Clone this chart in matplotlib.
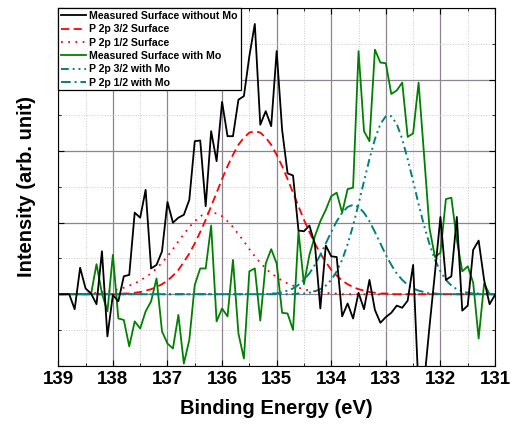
import numpy as np
import matplotlib
matplotlib.use('Agg')
from matplotlib import pyplot as plt
from matplotlib.ticker import MultipleLocator

plt.rcParams['font.family'] = ['Liberation Sans', 'DejaVu Sans']
plt.rcParams['font.weight'] = 'bold'

# binding energy grid, 139.0 -> 131.0 eV in 0.1 eV steps
energy = np.round(np.linspace(139.0, 131.0, 81), 1)

# measured spectra (arb. unit)
surface_no_mo = [
    0.00, 0.00, 0.00, -0.21, 0.37, 0.08, 0.01, -0.14, 0.60, -0.59,
    -0.01, -0.10, 0.25, 0.27, 1.14, 1.07, 1.46, 0.36, 0.41, 0.60,
    1.29, 1.00, 1.07, 1.11, 1.32, 2.14, 2.15, 1.23, 2.28, 1.86,
    2.69, 2.21, 2.21, 2.72, 2.77, 3.33, 3.78, 2.37, 2.56, 2.35,
    3.40, 2.30, 1.69, 1.66, 0.89, 0.88, 0.96, 0.70, -0.20, 0.68,
    0.53, 0.52, -0.31, -0.13, -0.34, 0.02, -0.21, 0.20, -0.22, -0.40,
    -0.32, -0.26, -0.16, -0.19, -0.09, 0.41, -1.35, -1.25, -0.45, 0.30,
    1.08, 0.20, 0.25, 1.08, -0.23, -0.16, 0.62, 0.75, 0.20, -0.14,
    -0.01]
surface_mo = [
    0.00, 0.00, 0.00, 0.00, 0.00, 0.00, 0.00, 0.42, 0.01, -0.24,
    0.55, -0.34, -0.36, -0.73, -0.38, -0.48, -0.24, -0.10, 0.22, -0.52,
    -0.69, -0.76, -0.29, -0.97, -0.64, 0.13, 0.36, 0.36, 0.96, -0.38,
    -0.20, -0.31, 0.48, -0.55, -0.90, 0.32, 0.36, -0.37, 0.43, 0.63,
    0.43, -0.26, -0.27, -0.50, 0.88, 0.14, 0.55, 0.81, 1.02, 1.18,
    1.37, 1.42, 1.14, 1.47, 1.49, 3.40, 2.28, 2.14, 3.42, 3.24,
    3.23, 2.80, 2.85, 2.96, 2.20, 2.25, 2.96, 1.95, 0.92, 0.52,
    0.58, 1.33, 1.35, 0.76, 0.32, 0.39, 0.16, -0.62, 0.15, 0.00,
    0.00]

# fitted components
p32_surface = [
    0.00, 0.00, 0.00, 0.00, 0.00, 0.00, 0.00, 0.00, 0.00, 0.00,
    0.00, 0.00, 0.01, 0.01, 0.02, 0.03, 0.05, 0.07, 0.10, 0.14,
    0.19, 0.26, 0.34, 0.45, 0.57, 0.71, 0.87, 1.04, 1.23, 1.42,
    1.61, 1.79, 1.95, 2.09, 2.19, 2.26, 2.28, 2.26, 2.19, 2.09,
    1.95, 1.79, 1.61, 1.42, 1.23, 1.04, 0.87, 0.71, 0.57, 0.45,
    0.34, 0.26, 0.19, 0.14, 0.10, 0.07, 0.05, 0.03, 0.02, 0.01,
    0.01, 0.00, 0.00, 0.00, 0.00, 0.00, 0.00, 0.00, 0.00, 0.00,
    0.00, 0.00, 0.00, 0.00, 0.00, 0.00, 0.00, 0.00, 0.00, 0.00,
    0.00]
p12_surface = [
    0.00, 0.00, 0.00, 0.00, 0.00, 0.01, 0.01, 0.02, 0.03, 0.04,
    0.05, 0.07, 0.09, 0.12, 0.15, 0.19, 0.24, 0.29, 0.36, 0.44,
    0.53, 0.63, 0.74, 0.84, 0.94, 1.02, 1.09, 1.13, 1.14, 1.13,
    1.09, 1.02, 0.94, 0.84, 0.74, 0.63, 0.53, 0.44, 0.36, 0.29,
    0.24, 0.19, 0.15, 0.12, 0.09, 0.07, 0.05, 0.04, 0.03, 0.02,
    0.01, 0.01, 0.00, 0.00, 0.00, 0.00, 0.00, 0.00, 0.00, 0.00,
    0.00, 0.00, 0.00, 0.00, 0.00, 0.00, 0.00, 0.00, 0.00, 0.00,
    0.00, 0.00, 0.00, 0.00, 0.00, 0.00, 0.00, 0.00, 0.00, 0.00,
    0.00]
p32_mo = [
    0.00, 0.00, 0.00, 0.00, 0.00, 0.00, 0.00, 0.00, 0.00, 0.00,
    0.00, 0.00, 0.00, 0.00, 0.00, 0.00, 0.00, 0.00, 0.00, 0.00,
    0.00, 0.00, 0.00, 0.00, 0.00, 0.00, 0.00, 0.00, 0.00, 0.00,
    0.00, 0.00, 0.00, 0.00, 0.00, 0.00, 0.00, 0.00, 0.00, 0.00,
    0.00, 0.00, 0.00, 0.00, 0.01, 0.01, 0.02, 0.04, 0.07, 0.12,
    0.20, 0.32, 0.48, 0.70, 0.96, 1.26, 1.58, 1.89, 2.17, 2.38,
    2.49, 2.49, 2.38, 2.17, 1.89, 1.58, 1.26, 0.96, 0.70, 0.48,
    0.32, 0.20, 0.12, 0.07, 0.04, 0.02, 0.01, 0.01, 0.00, 0.00,
    0.00]
p12_mo = [
    0.00, 0.00, 0.00, 0.00, 0.00, 0.00, 0.00, 0.00, 0.00, 0.00,
    0.00, 0.00, 0.00, 0.00, 0.00, 0.00, 0.00, 0.00, 0.00, 0.00,
    0.00, 0.00, 0.00, 0.00, 0.00, 0.00, 0.00, 0.00, 0.00, 0.00,
    0.00, 0.00, 0.00, 0.00, 0.00, 0.00, 0.00, 0.00, 0.00, 0.01,
    0.01, 0.03, 0.05, 0.08, 0.13, 0.20, 0.29, 0.41, 0.55, 0.71,
    0.87, 1.02, 1.14, 1.22, 1.25, 1.22, 1.14, 1.02, 0.87, 0.71,
    0.55, 0.41, 0.29, 0.20, 0.13, 0.08, 0.05, 0.03, 0.01, 0.01,
    0.00, 0.00, 0.00, 0.00, 0.00, 0.00, 0.00, 0.00, 0.00, 0.00,
    0.00]

teal = '#008080'

fig = plt.figure(figsize=(5.19, 4.32), dpi=100)
ax = fig.add_axes([0.1123, 0.1535, 0.8415, 0.8275])

ax.plot(energy, surface_no_mo, color='black', lw=1.3, label='Measured Surface without Mo', zorder=4)
ax.plot(energy, p32_surface, color='red', lw=1.3, ls=(0, (4.5, 2.5)), label='P 2p 3/2 Surface', zorder=3)
ax.plot(energy, p12_surface, color='red', lw=1.3, ls=(0, (1, 3)), label='P 2p 1/2 Surface', zorder=3)
ax.plot(energy, surface_mo, color='#008000', lw=1.3, label='Measured Surface with Mo', zorder=3)
ax.plot(energy, p32_mo, color=teal, lw=1.4, ls=(0, (4, 2, 1, 2, 1, 2)), label='P 2p 3/2 with Mo', zorder=3)
ax.plot(energy, p12_mo, color=teal, lw=1.4, ls=(0, (5, 2, 1, 2)), label='P 2p 1/2 with Mo', zorder=3)

ax.set_xlim(139, 131)
ax.set_ylim(-1, 4)
ax.xaxis.set_major_locator(MultipleLocator(1))
ax.xaxis.set_minor_locator(MultipleLocator(0.5))
ax.yaxis.set_major_locator(MultipleLocator(1))
ax.yaxis.set_minor_locator(MultipleLocator(0.5))
ax.tick_params(which='both', direction='in', top=True, right=True, labelleft=False)
ax.tick_params(which='major', length=4, labelsize=13.5)
ax.tick_params(which='minor', length=2.5)
for lab in ax.get_xticklabels():
    lab.set_fontweight('bold')

ax.grid(True, which='major', color='#8c8490', lw=0.9, ls='-')
ax.grid(True, which='minor', color='#c8c8c8', lw=0.7, ls=':')
ax.set_axisbelow(True)

ax.set_xlabel('Binding Energy (eV)', fontsize=14.5, fontweight='bold', labelpad=8)
ax.set_ylabel('Intensity (arb. unit)', fontsize=14.5, fontweight='bold', labelpad=16)

leg = ax.legend(loc='upper left', fontsize=7.6, frameon=True, fancybox=False,
                edgecolor='black', borderpad=0.25, labelspacing=0.32,
                handlelength=2.4, handletextpad=0.3, borderaxespad=0)
leg.get_frame().set_linewidth(0.9)
leg.get_frame().set_alpha(1)
for t in leg.get_texts():
    t.set_fontweight('bold')

fig.savefig('out.png', dpi=100)
